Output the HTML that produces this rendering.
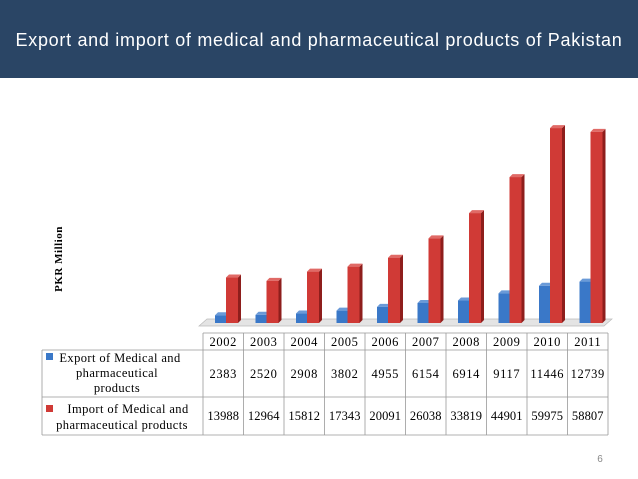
<!DOCTYPE html>
<html><head><meta charset="utf-8">
<style>
body{margin:0;width:638px;height:479px;background:#fff;overflow:hidden;font-family:"Liberation Serif",serif;}
#hdr{position:absolute;left:0;top:0;width:638px;height:78px;background:#2a4565;}
#title{position:absolute;left:0;top:30px;width:638px;text-align:center;color:#fff;font-family:"Liberation Sans",sans-serif;font-size:18px;letter-spacing:0.7px;}
</style></head><body>
<div id="hdr"></div>
<div id="title">Export and import of medical and pharmaceutical products of Pakistan</div>
<svg id="chart" width="638" height="479" style="position:absolute;left:0;top:0"></svg>
<script>
const years=["2002","2003","2004","2005","2006","2007","2008","2009","2010","2011"];
const exportVals=[2383,2520,2908,3802,4955,6154,6914,9117,11446,12739];
const importVals=[13988,12964,15812,17343,20091,26038,33819,44901,59975,58807];
const seriesNames=["Export of Medical and pharmaceutical products","Import of Medical and pharmaceutical products"];

const svg=document.getElementById('chart');
const NS="http://www.w3.org/2000/svg";
function mk(t,a,txt){const e=document.createElementNS(NS,t);for(const k in a)e.setAttribute(k,a[k]);if(txt!==undefined)e.textContent=txt;svg.appendChild(e);return e;}
const x0=203,colW=40.5,base=323,maxV=60000,hPx=195;
function xs(i){return x0+i*colW;}
function ys(v){return base-v/maxV*hPx;}

const fl=mk('polygon',{points:`${x0-4},${base+3} ${x0+4},${base-4} ${x0+colW*10+4},${base-4} ${x0+colW*10-4},${base+3}`,fill:'#e4e4e4',stroke:'#bbb','stroke-width':0.7});



function bar(x,w,v,front,side,top,name){
  const y=ys(v),d=3;
  const g=document.createElementNS(NS,'g');svg.appendChild(g);
  
  
  const p1=document.createElementNS(NS,'polygon');p1.setAttribute('points',`${x+w},${y} ${x+w+d},${y-d} ${x+w+d},${base-d} ${x+w},${base}`);p1.setAttribute('fill',side);g.appendChild(p1);
  const p2=document.createElementNS(NS,'polygon');p2.setAttribute('points',`${x},${y} ${x+d},${y-d} ${x+w+d},${y-d} ${x+w},${y}`);p2.setAttribute('fill',top);g.appendChild(p2);
  const r=document.createElementNS(NS,'rect');r.setAttribute('x',x);r.setAttribute('y',y);r.setAttribute('width',w);r.setAttribute('height',base-y);r.setAttribute('fill',front);g.appendChild(r);
}
years.forEach((yr,i)=>{
  const cx=xs(i);
  bar(cx+12,11,exportVals[i],'#3a78c8','#24518c','#6a9ad8','export-bar-'+yr);
  bar(cx+23,12,importVals[i],'#d03a36','#8e1e1c','#e06a66','import-bar-'+yr);
});

const tl=x0, tr=x0+colW*10;
const lines=[[tl,333,tl,435],[tr,333,tr,435],[42,350,tr,350],[42,397,tr,397],[42,435,tr,435],[42,350,42,435],[tl,333,tr,333]];
years.forEach((y,i)=>{if(i>0)lines.push([xs(i),333,xs(i),435]);});
lines.forEach(l=>{const e=mk('line',{x1:l[0],y1:l[1],x2:l[2],y2:l[3],stroke:'#999','stroke-width':0.8});
  
  });
const ts={'text-anchor':'middle','font-size':12.5,'letter-spacing':0.6};
years.forEach((yr,i)=>{
  const c=xs(i)+colW/2;
  const t1=mk('text',Object.assign({x:c,y:346},ts),yr);
  
  
  const t2=mk('text',Object.assign({x:c,y:378},ts),exportVals[i]);
  
  
  const t3=mk('text',Object.assign({x:c,y:420},ts,{'letter-spacing':exportVals[i]>0&&importVals[i]>9999?0.1:0.6}),importVals[i]);
  
  
});
const k1=mk('rect',{x:46,y:353,width:7,height:7,fill:'#3a78c8'});


const k2=mk('rect',{x:46,y:405,width:7,height:7,fill:'#d03a36'});


const ls={'text-anchor':'middle','font-size':12.5,'letter-spacing':0.4};
[["Export of Medical and",120,362],["pharmaceutical",117,377],["products",117,392]].forEach(a=>{
  const t=mk('text',Object.assign({x:a[1],y:a[2]},ls),a[0]);
  
  });
[["Import of Medical and",128,413],["pharmaceutical products",122,429]].forEach(a=>{
  const t=mk('text',Object.assign({x:a[1],y:a[2]},ls),a[0]);
  
  });

const yt=mk('text',{x:0,y:0,transform:'translate(62,259) rotate(-90)','text-anchor':'middle','font-size':11,'font-weight':'bold','letter-spacing':0.5},'PKR Million');


const pn=mk('text',{x:600,y:462,'text-anchor':'middle','font-size':10,fill:'#888','font-family':'Liberation Sans, sans-serif'},'6');


</script>
</body></html>
